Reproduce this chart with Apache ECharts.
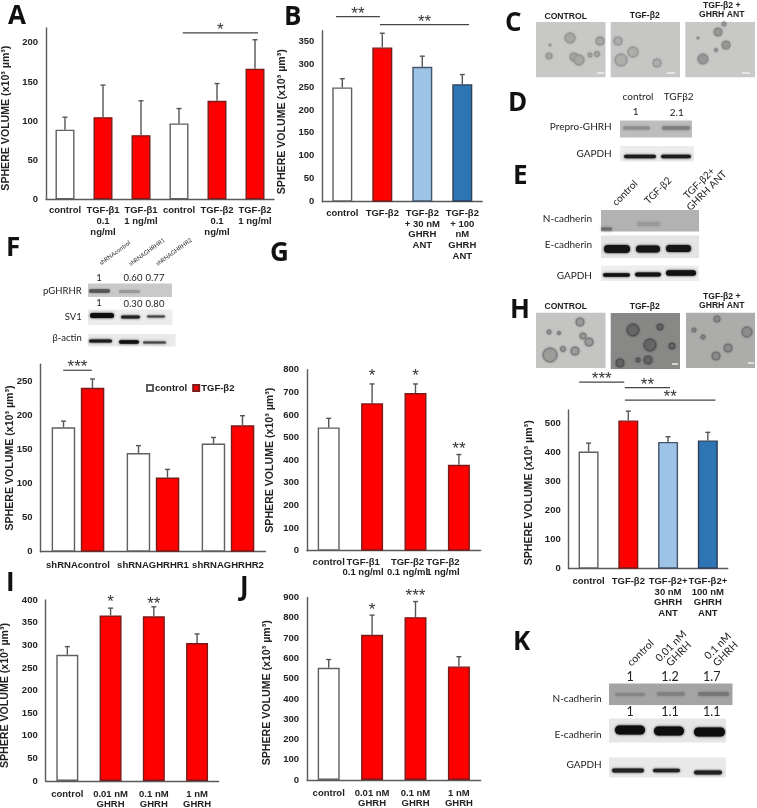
<!DOCTYPE html>
<html><head><meta charset="utf-8">
<style>html,body{margin:0;padding:0;background:#fff}#c{width:757px;height:808px}</style>
<script src="https://cdn.jsdelivr.net/npm/echarts@6/dist/echarts.min.js"></script>
</head><body><div id="c"></div>
<script>
const yTitle = 'SPHERE VOLUME (x10³ µm³)';

const aCats = ['control','TGF-β1\n0.1\nng/ml','TGF-β1\n1 ng/ml','control','TGF-β2\n0.1\nng/ml','TGF-β2\n1 ng/ml'];
const aValues = [89,105,82,97,126,167];
const aTops = [105,146,126,116,148,204];
const aTicks = [0,50,100,150,200];
const aFills = ['w','r','r','w','r','r'];
const aMarks = [[3.1,5.08,212.7,'*']];

const bCats = ['control','TGF-β2','TGF-β2\n+ 30 nM\nGHRH\nANT','TGF-β2\n+ 100\nnM\nGHRH\nANT'];
const bValues = [249,336,294,256];
const bTops = [268,367,317,277];
const bTicks = [0,50,100,150,200,250,300,350];
const bFills = ['w','r','l','d'];
const bMarks = [[-0.16,0.94,403,'**'],[0.94,3.17,385.6,'**']];

const fCats = ['shRNAcontrol','shRNAGHRHR1','shRNAGHRHR2'];
const fControl = [183,145,159];
const fControlTops = [192,156,168];
const fTgf = [241,109,186];
const fTgfTops = [254,121,200];
const fTicks = [0,50,100,150,200,250];
const fMarks = [[-0.197,0.184,266.8,'***']];

const gCats = ['control','TGF-β1\n0.1 ng/ml','TGF-β2\n0.1 ng/ml','TGF-β2\n1 ng/ml'];
const gLabelPads = [0,18,16,32];
const gValues = [545,652,697,380];
const gTops = [585,737,737,425];
const gTicks = [0,100,200,300,400,500,600,700,800];
const gFills = ['w','r','r','r'];
const gMarks = [[1,1,786,'*'],[2,2,786,'*'],[3,3,463,'**']];

const hCats = ['control','TGF-β2','TGF-β2+\n30 nM\nGHRH\nANT','TGF-β2+\n100 nM\nGHRH\nANT'];
const hValues = [404,511,437,442];
const hTops = [433,543,455,470];
const hTicks = [0,100,200,300,400,500];
const hFills = ['w','r','l','d'];
const hMarks = [[-0.237,0.897,642.8,'***'],[0.914,2.05,624,'**'],[0.914,3.19,580.7,'**']];

const iCats = ['control','0.01 nM\nGHRH','0.1 nM\nGHRH','1 nM\nGHRH'];
const iValues = [279,366,364,305];
const iTops = [297,382,385,325];
const iTicks = [0,50,100,150,200,250,300,350,400];
const iFills = ['w','r','r','r'];
const iMarks = [[1,1,402,'*'],[2,2,398,'**']];

const jCats = ['control','0.01 nM\nGHRH','0.1 nM\nGHRH','1 nM\nGHRH'];
const jValues = [553,716,803,560];
const jTops = [594,813,880,608];
const jTicks = [0,100,200,300,400,500,600,700,800,900];
const jFills = ['w','r','r','r'];
const jMarks = [[1,1,854,'*'],[2,2,921,'***']];

const SANS = '"Liberation Sans", Arial, sans-serif';
const AXIS = '#5a5a5a';
const STYLE = {
  w:{color:'#ffffff',borderColor:'#5f5f5f'},
  r:{color:'#ff0000',borderColor:'#7a1a1a'},
  l:{color:'#9dc3e6',borderColor:'#44546a'},
  d:{color:'#2e75b6',borderColor:'#2f3f55'}
};
const grids=[],xAxes=[],yAxes=[],series=[];

function addPanel(p){
  const i=grids.length;
  grids.push({left:p.left,top:p.top,width:p.width,height:p.height,outerBoundsMode:'none'});
  xAxes.push({type:'category',gridIndex:i,
    data:p.cats.map((c,k)=>p.pads?{value:c,textStyle:{padding:[0,p.pads[k],0,0]}}:c),
    axisTick:{show:false},
    axisLine:{lineStyle:{color:AXIS,width:1.4}},
    axisLabel:{interval:0,margin:p.labelMargin||6,color:'#222',fontFamily:SANS,fontWeight:'bold',fontSize:p.fs||9.5,lineHeight:p.lh||10.8,hideOverlap:false}});
  yAxes.push({type:'value',gridIndex:i,min:0,max:p.max,
    splitLine:{show:false},axisTick:{show:false,customValues:p.ticks},
    axisLine:{show:true,lineStyle:{color:AXIS,width:1.4}},
    axisLabel:{customValues:p.ticks,margin:8,color:'#222',fontFamily:SANS,fontWeight:'bold',fontSize:p.fs||9.5},
    name:yTitle,nameLocation:'middle',nameGap:p.nameGap,nameRotate:90,nameMoveOverlap:false,
    nameTextStyle:{color:'#222',fontFamily:SANS,fontWeight:'bold',fontSize:p.nameFs||10.6,padding:[0,p.namePad||0,0,0]}});
  return i;
}
function barSeries(name,i,vals,fills,width,gap){
  series.push({type:'bar',name,xAxisIndex:i,yAxisIndex:i,barWidth:width,barGap:gap,
    itemStyle:Object.assign({borderWidth:1.4},STYLE[fills[0]]),
    data:vals.map((v,k)=>({value:v,itemStyle:Object.assign({borderWidth:1.4},STYLE[fills[k]])})),silent:true});
}
function errSeries(i,vals,tops,shift){
  series.push({type:'custom',name:'err'+i+shift,xAxisIndex:i,yAxisIndex:i,silent:true,z:3,
    data:vals.map((v,k)=>[k,v,tops[k]]),
    renderItem(params,api){
      const cx=api.coord([api.value(0),0])[0]+(shift||0)*api.size([1,0])[0];
      const y0=api.coord([0,api.value(1)])[1], y1=api.coord([0,api.value(2)])[1];
      const st={stroke:'#555',lineWidth:1.4};
      return {type:'group',children:[
        {type:'line',shape:{x1:cx,y1:y0,x2:cx,y2:y1},style:st},
        {type:'line',shape:{x1:cx-2.5,y1:y1,x2:cx+2.5,y2:y1},style:st}]};
    }});
}
function markSeries(i,marks){
  series.push({type:'custom',name:'marks'+i,xAxisIndex:i,yAxisIndex:i,silent:true,z:4,clip:false,
    data:marks.map((m,k)=>[k,m[2]]),
    renderItem(params,api){
      const m=marks[api.value(0)];
      const unit=api.size([1,0])[0], c0=api.coord([0,m[2]]);
      const x1=c0[0]+m[0]*unit, x2=c0[0]+m[1]*unit, y=c0[1];
      const kids=[{type:'text',style:{text:m[3],x:(x1+x2)/2,y:y+(x1===x2?3.5:-2.5),align:'center',verticalAlign:'middle',font:'17px '+SANS,fill:'#333'}}];
      if(x1!==x2)kids.push({type:'line',shape:{x1,y1:y,x2,y2:y},style:{stroke:'#444',lineWidth:1.2}});
      return {type:'group',children:kids};
    }});
}
function simple(p,vals,tops,fills,marks,barW){
  const i=addPanel(p);
  barSeries('panel'+i,i,vals,fills,barW);
  errSeries(i,vals,tops,0);
  markSeries(i,marks);
  return i;
}

simple({left:46,top:28,width:228,height:171.3,max:219,cats:aCats,ticks:aTicks,nameGap:34,namePad:9},aValues,aTops,aFills,aMarks,19);
simple({left:322.3,top:30.7,width:160,height:171,max:372.5,cats:bCats,ticks:bTicks,nameGap:34.5,namePad:11},bValues,bTops,bFills,bMarks,20);
const fi=addPanel({left:40.5,top:364.3,width:225,height:187.4,max:275.6,cats:fCats,ticks:fTicks,nameGap:25,labelMargin:8});
barSeries('control',fi,fControl,['w','w','w'],23.5,'24%');
barSeries('TGF-β2',fi,fTgf,['r','r','r'],23.5,'24%');
errSeries(fi,fControl,fControlTops,-0.193);
errSeries(fi,fTgf,fTgfTops,0.193);
markSeries(fi,fMarks);
simple({left:307,top:369.7,width:173.6,height:181,max:800,cats:gCats,pads:gLabelPads,ticks:gTicks,nameGap:31,namePad:0,labelMargin:7,lh:9.6},gValues,gTops,gFills,gMarks,22);
simple({left:568.7,top:410,width:159,height:158.7,max:547,cats:hCats,ticks:hTicks,nameGap:34.5,namePad:7,labelMargin:7},hValues,hTops,hFills,hMarks,20);
simple({left:45.7,top:600,width:173,height:181,max:400,cats:iCats,ticks:iTicks,nameGap:35,namePad:10,labelMargin:8,lh:10.4},iValues,iTops,iFills,iMarks,22);
simple({left:307,top:597.5,width:173.6,height:182.5,max:900,cats:jCats,ticks:jTicks,nameGap:34,namePad:8,labelMargin:8,lh:10.4},jValues,jTops,jFills,jMarks,22);

/* Figure furniture: panel letters, blot strips and micrographs */
const g=[];
const LAT='Lato, "Open Sans", sans-serif';
function letter(t,x,yc){g.push({type:'text',style:{text:t,x,y:yc,verticalAlign:'middle',font:'bold 26px "Open Sans", sans-serif',fill:'#111'}});}
function txt(t,x,y,font,align,rot){
  g.push({type:'text',x,y,rotation:rot||0,style:{text:t,x:0,y:0,align:align||'center',verticalAlign:'middle',font,fill:'#222',lineHeight:parseFloat(font.match(/([\d.]+)px/)[1])*1.05}});
}
function strip(x0,x1,y0,y1,fill,blur){
  g.push({type:'rect',shape:{x:x0,y:y0,width:x1-x0,height:y1-y0},style:{fill,shadowBlur:blur||0,shadowColor:fill}});
}
function band(x0,x1,yc,h,fill,blur){
  g.push({type:'rect',shape:{x:x0,y:yc-h/2,width:x1-x0,height:h,r:h/2},style:{fill,shadowBlur:blur==null?2.5:blur,shadowColor:fill}});
}
function sphere(x,y,r,fill,edge){
  g.push({type:'circle',shape:{cx:x,cy:y,r},style:{fill,stroke:edge,lineWidth:0.8,shadowBlur:2,shadowColor:edge}});
}
function scale(x0,x1,y){g.push({type:'rect',shape:{x:x0,y:y-0.7,width:x1-x0,height:1.4},style:{fill:'#f4f4f4'}});}

letter('A',8,17);letter('B',284,18);letter('C',505,24);letter('D',508,104);letter('E',513,177);
letter('F',6,249);letter('G',270,254);letter('H',510,311);letter('I',6,584);letter('J',240,588);letter('K',513,643);

const ART='bold 8.6px '+SANS;
/* C */
txt('CONTROL',565.7,16.7,ART);txt('TGF-β2',644.7,16,ART);txt('TGF-β2 +\nGHRH ANT',721.7,10,ART);
strip(536,605.5,22,77.3,'#c8c8c6');strip(610.7,680,22,77.3,'#c6c6c4');strip(685.3,755,22,77.3,'#c8c8c6');
[[570,38,5],[600,41,4],[549,56,3],[574,57,4],[579,60,5],[597,54,2.5],[590,55,2],[550,45,1]].forEach(c=>sphere(c[0],c[1],c[2],'#a8a8a6','#8e8e8c'));
[[618,41,4],[633,52,5],[621,60,6],[657,63,4]].forEach(c=>sphere(c[0],c[1],c[2],'#aeaeac','#909090'));
[[718,32,4],[726,45,4],[703,59,5],[716,50,1.5],[698,38,1],[724,24,2]].forEach(c=>sphere(c[0],c[1],c[2],'#989896','#848484'));
scale(597,604,73);scale(667,675,73);scale(742,750,73);
/* D */
const LBL='10px '+LAT;
txt('control',638,97,LBL);txt('TGFβ2',678.7,97,LBL);txt('1',635.7,112,LBL);txt('2.1',676.7,113,LBL);
txt('Prepro-GHRH',611.7,127,LBL,'right');txt('GAPDH',611.7,153.7,LBL,'right');
strip(620,692,120.5,137.5,'#bdbdbd');band(623,650,128,3,'#8c8c8c',3);band(662,690,128,3.5,'#7e7e7e',3);
strip(620,694,146,161.5,'#ececec');band(624,656,156.5,3.5,'#1c1c1c');band(661,691,156.5,3.5,'#1c1c1c');
/* E */
txt('control',625,193,LBL,'center',Math.PI/4);txt('TGF-β2',658,190.7,LBL,'center',Math.PI/4);txt('TGF-β2+\nGHRH ANT',703,187,LBL,'center',Math.PI/4);
txt('N-cadherin',592,218.7,LBL,'right');txt('E-cadherin',592,245,LBL,'right');txt('GAPDH',592,275.5,LBL,'right');
strip(601,699,210,231.5,'#b2b2b2');band(601,612,229,3,'#6d6d6d',3);band(637,660,224,4,'#9a9a9a',3);
strip(601,699,235.5,258,'#e4e4e4');band(604,630,249,8,'#161616');band(636,660,249,7,'#161616');band(666,691,248.5,7,'#161616');
strip(601,699,265.5,281,'#ededed');band(603,630,275,3.5,'#111');band(635,661,274.5,4,'#111');band(666,696,273,5.5,'#111');
/* F */
const TINY='6px '+LAT, NUM='9.5px '+LAT;
txt('shRNAcontrol',115,253,TINY,'center',Math.PI/5);txt('shRNAGHRHR1',147,252,TINY,'center',Math.PI/5);txt('shRNAGHRHR2',174,252,TINY,'center',Math.PI/5);
txt('1',99,277.7,NUM);txt('0.60',133,277.7,NUM);txt('0.77',155,277.7,NUM);
txt('1',99,303,NUM);txt('0.30',133,303.5,NUM);txt('0.80',155,303.5,NUM);
txt('pGHRHR',81.7,291,NUM,'right');txt('SV1',81.7,317,NUM,'right');txt('β-actin',81.7,338,NUM,'right');
strip(88,172,283.5,297,'#c9c9c9');band(89,110,291,3.5,'#555',2);band(119,140,291.5,3,'#999',2);
strip(88,172.5,309.5,325,'#ececec');band(90,114,315.5,5,'#0e0e0e');band(121,140,317,3,'#222');band(147,165,316.5,2,'#444');
strip(88,175.5,334,346.5,'#e9e9e9');band(89,112,341,3,'#1c1c1c');band(119,139,342,3.5,'#111');band(143,166,342.5,2,'#444');
/* H */
txt('CONTROL',565.7,307,ART);txt('TGF-β2',644.7,307,ART);txt('TGF-β2 +\nGHRH ANT',721.7,301,ART);
strip(536,605.5,312.7,368,'#c4c4c2');strip(610.7,680,313,369,'#888886');strip(686,755,312.7,368,'#acacaa');
[[580,322,4],[589,342,4],[583,336,3],[550,355,7],[563,349,2.5],[575,351,4],[549,332,2],[559,333,1.5]].forEach(c=>sphere(c[0],c[1],c[2],'#9c9c9a','#757575'));
[[633,330,6],[650,345,6],[672,346,3],[648,360,4],[620,363,4],[660,327,3],[638,360,2]].forEach(c=>sphere(c[0],c[1],c[2],'#666','#4a4a4a'));
[[717,319,3],[747,332,5],[703,337,2],[728,348,4],[716,356,4],[694,330,2]].forEach(c=>sphere(c[0],c[1],c[2],'#8c8c8c','#6c6c6c'));
scale(672,678,364);scale(748,754,363);
/* K */
const KN='12.5px '+LAT;
txt('control',640.7,653,'10.5px '+LAT,'center',Math.PI/4);txt('0.01 nM\nGHRH',675,650,'10.5px '+LAT,'center',Math.PI/4);txt('0.1 nM\nGHRH',721.7,650,'10.5px '+LAT,'center',Math.PI/4);
txt('1',630,677,KN);txt('1.2',670,677,KN);txt('1.7',711.7,677,KN);
txt('1',630,712,KN);txt('1.1',670,712,KN);txt('1.1',711.7,712,KN);
txt('N-cadherin',601.7,698.7,LBL,'right');txt('E-cadherin',601.7,735,LBL,'right');txt('GAPDH',601.7,765,LBL,'right');
strip(609,732.5,683.5,705,'#a4a4a4');band(615,645,694.5,3,'#858585',3);band(657,685,694,3.5,'#808080',3);band(698,729,694,4,'#777',3);
strip(609,726,718.5,742.5,'#e6e6e6');band(615,645,730,9,'#0e0e0e');band(654,684,731,9,'#0e0e0e');band(694,725,732,9,'#0e0e0e');
strip(609,726,757.5,777.5,'#e9e9e9');band(612,644,770.5,4,'#222');band(653,680,770.5,3.5,'#222');band(694,722,772.5,4,'#222');

const chart=echarts.init(document.getElementById('c'),null,{renderer:'canvas'});
chart.setOption({
  animation:false,backgroundColor:'#fff',
  legend:{data:['control','TGF-β2'],left:146,top:383,itemWidth:6,itemHeight:6,itemGap:5,selectedMode:false,padding:0,
    textStyle:{color:'#222',fontFamily:SANS,fontWeight:'bold',fontSize:9.5,padding:[0,0,0,-3]},
    icon:'rect'},
  grid:grids,xAxis:xAxes,yAxis:yAxes,series,graphic:{elements:g}
});
</script></body></html>
